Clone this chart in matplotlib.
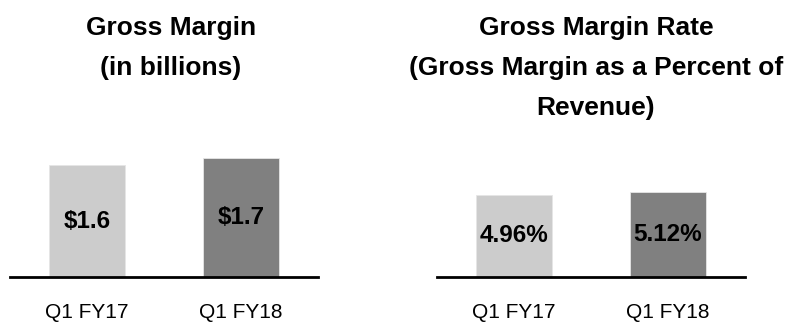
import matplotlib.pyplot as plt

# Quartalsdaten
quarters = ['Q1 FY17', 'Q1 FY18']
gross_margin = [1.6, 1.7]          # Mrd. $
gross_margin_rate = [4.96, 5.12]   # % vom Umsatz
bar_colors = ['#cccccc', '#808080']

plt.rcParams['font.family'] = ['Liberation Sans Narrow', 'Liberation Sans', 'DejaVu Sans']

W, H = 788, 324
fig = plt.figure(figsize=(W / 100, H / 100), dpi=100)


def make_axes(x0, x1, y_base, y_top):
    return fig.add_axes([x0 / W, (H - y_base) / H, (x1 - x0) / W, (y_base - y_top) / H])


def draw_panel(ax, values, labels, ymax):
    bars = ax.bar(range(len(values)), values, width=0.49, color=bar_colors,
                  edgecolor='#e6e6e6', linewidth=0.6)
    ax.bar_label(bars, labels=labels, label_type='center',
                 fontsize=17.5, fontweight='bold', color='black')
    ax.set_xlim(-0.5, 1.5)
    ax.set_ylim(0, ymax)
    ax.set_xticks(range(len(quarters)))
    ax.set_xticklabels(quarters, fontsize=15)
    ax.tick_params(axis='x', length=0, pad=19)
    ax.set_yticks([])
    for side in ['top', 'left', 'right']:
        ax.spines[side].set_visible(False)
    ax.spines['bottom'].set_linewidth(2)
    ax.spines['bottom'].set_color('black')


# Linkes Diagramm: Bruttomarge in Mrd.
ax1 = make_axes(10, 318, 277, 137)
draw_panel(ax1, gross_margin, [f'\\${v:.1f}' for v in gross_margin], 140 / 70)

# Rechtes Diagramm: Bruttomargenrate
ax2 = make_axes(437, 745, 277, 137)
draw_panel(ax2, gross_margin_rate, [f'{v:.2f}%' for v in gross_margin_rate], 140 / 16.55)

fig.text(171 / W, 1 - 16 / H, 'Gross Margin\n(in billions)', ha='center', va='top',
         fontsize=19, fontweight='bold', linespacing=1.85)
fig.text(596 / W, 1 - 16 / H, 'Gross Margin Rate\n(Gross Margin as a Percent of\nRevenue)',
         ha='center', va='top', fontsize=19, fontweight='bold', linespacing=1.85)

fig.savefig('out.png', dpi=100)
